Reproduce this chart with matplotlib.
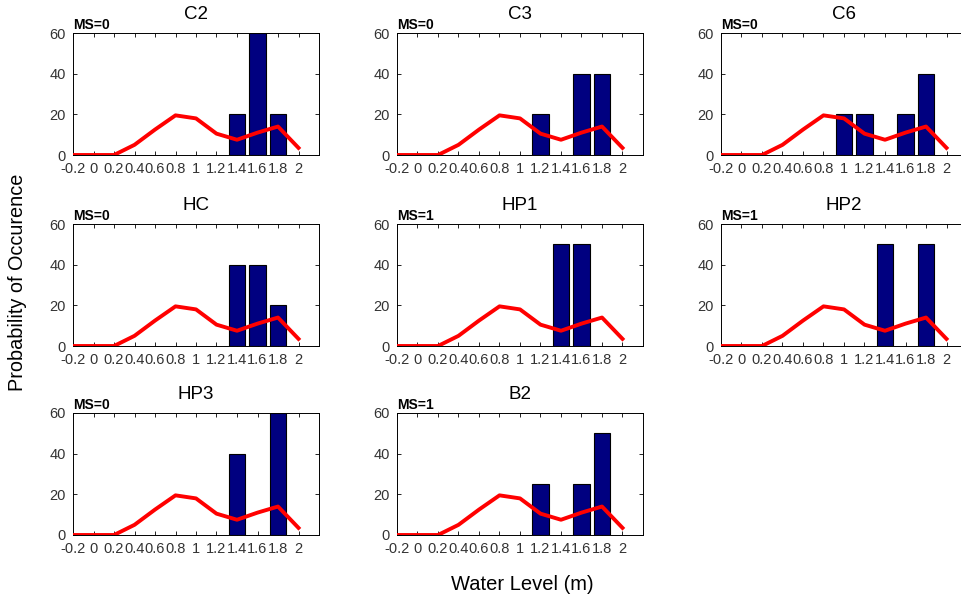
import numpy as np
import matplotlib
matplotlib.use('Agg')
import matplotlib.pyplot as plt

plt.rcParams['font.family'] = ['Liberation Sans', 'DejaVu Sans']

# water level grid and the red reference curve (same in every panel)
levels = [-0.2, 0.0, 0.2, 0.4, 0.6, 0.8, 1.0, 1.2, 1.4, 1.6, 1.8, 2.0]
curve = [0, 0, 0, 5, 12.5, 19.5, 18, 10.5, 7.5, 11, 14, 3.5]

# station names, MS flag and bar data
stations = ['C2', 'C3', 'C6', 'HC', 'HP1', 'HP2', 'HP3', 'B2']
ms_flags = [0, 0, 0, 0, 1, 1, 0, 1]
bar_x = [
    [1.4, 1.6, 1.8],
    [1.2, 1.6, 1.8],
    [1.0, 1.2, 1.6, 1.8],
    [1.4, 1.6, 1.8],
    [1.4, 1.6],
    [1.4, 1.8],
    [1.4, 1.8],
    [1.2, 1.6, 1.8],
]
bar_y = [
    [20, 60, 20],
    [20, 40, 40],
    [20, 20, 20, 40],
    [40, 40, 20],
    [50, 50],
    [50, 50],
    [40, 60],
    [25, 25, 50],
]

W, H = 962, 599
fig = plt.figure(figsize=(W / 100, H / 100), dpi=100)

col_left = [73, 397, 721]
row_bottom = [155, 346, 535]
ax_w, ax_h = 246, 122

xticks = np.round(np.arange(-0.2, 2.01, 0.2), 1)
xlabels = ['%g' % t for t in xticks]

for i, name in enumerate(stations):
    r, c = divmod(i, 3)
    ax = fig.add_axes([col_left[c] / W, 1 - row_bottom[r] / H, ax_w / W, ax_h / H])
    ax.bar(bar_x[i], bar_y[i], width=0.16, color='#000080', edgecolor='black', linewidth=0.8, zorder=2)
    ax.plot(levels, curve, color='#ff0000', linewidth=2.8, zorder=3)
    ax.set_xlim(-0.2, 2.2)
    ax.set_ylim(0, 60)
    ax.set_xticks(xticks)
    ax.set_xticklabels(xlabels)
    ax.set_yticks([0, 20, 40, 60])
    ax.tick_params(direction='in', top=True, right=True, length=3, width=0.6,
                   labelsize=10.5, labelcolor='#333333')
    ax.tick_params(axis='x', pad=5)
    ax.tick_params(axis='y', pad=5)
    for s in ax.spines.values():
        s.set_linewidth(0.7)
    ax.set_title(name, fontsize=13.5, pad=10)
    ax.text(0, 1.01, 'MS=%d' % ms_flags[i], transform=ax.transAxes,
            ha='left', va='bottom', fontsize=10, fontweight='bold')

fig.text(18 / W, 1 - 282 / H, 'Probability of Occurence', rotation=90,
         ha='center', va='center', fontsize=14.3)
fig.text(522 / W, 1 - 584 / H, 'Water Level (m)', ha='center', va='center', fontsize=14.5)

fig.savefig('out.png', dpi=100, facecolor='white')
